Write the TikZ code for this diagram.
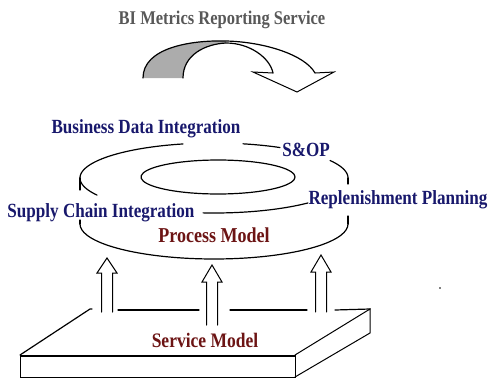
\documentclass[tikz,border=0pt]{standalone}
\usepackage{fontspec}
\newfontfamily\lblfont[FakeStretch=0.85]{Liberation Serif}
\definecolor{navy}{RGB}{24,24,108}
\definecolor{maroon}{RGB}{108,20,20}
\definecolor{titlegray}{RGB}{88,88,88}
\definecolor{ribbon}{RGB}{172,172,172}
\tikzset{
  lbl/.style={inner sep=0pt, anchor=base, font=\lblfont\bfseries\fontsize{20.1}{24}\selectfont, text=navy},
  modellbl/.style={lbl, text=maroon},
  edge/.style={line width=1.2pt, line cap=round},
  thin edge/.style={line width=1pt, line cap=round},
}
% ellipse arc through a parameter range (screen angles: 270 = top, 90 = bottom)
\newcommand\ellarc[6]{\draw[edge] plot[domain=#5:#6, samples=40, smooth] ({#1+#3*cos(\x)},{#2+#4*sin(\x)});}
% hollow upward block arrow: centre x, shaft bottom, head base, tip
\newcommand\hollowup[4]{\draw[thin edge, line join=miter] ({#1-5.5},#2) -- ({#1-5.5},#3) -- ({#1-10},#3) -- (#1,#4) -- ({#1+10},#3) -- ({#1+5.5},#3) -- ({#1+5.5},#2);}
\begin{document}
\begin{tikzpicture}[x=1pt, y=-1pt]
\useasboundingbox (0,0) rectangle (490,380);

% title and the twisted reporting arrow
\node[lbl, text=titlegray, font=\lblfont\bfseries\fontsize{19.4}{23}\selectfont] (title) at (222,24) {BI Metrics Reporting Service};
\fill[ribbon] (143,78) .. controls (143,48) and (190,40) .. (226,41) -- (226,43)
  .. controls (205,44) and (183,55) .. (183,78) -- cycle;
\draw[edge] (143,78) .. controls (143,48) and (190,40) .. (226,41)
  .. controls (265,42) and (305,55) .. (315,73);
\draw[edge] (183,78) .. controls (183,55) and (205,44) .. (226,43)
  .. controls (250,43) and (270,58) .. (273,73);
\draw[thin edge, line join=miter] (273,73) -- (253,72) -- (297,92) -- (334,72) -- (315,73);

% process model ring: top ellipse centre (214,178), bottom ellipse centre (214,224)
\ellarc{214}{178}{134}{35}{180}{256.6}
\ellarc{214}{178}{134}{35}{282.5}{299.5}
\ellarc{214}{178}{134}{35}{330}{360}
\ellarc{214}{178}{134}{35}{150.8}{180}
\ellarc{214}{178}{134}{35}{45.5}{94.7}
\ellarc{214}{224}{134}{35}{0}{180}
\draw[edge] (80,178) -- (80,190);
\draw[edge] (80,220) -- (80,224);
\draw[edge] (348,178) -- (348,184);
\draw[edge] (348,216) -- (348,224);
% hole of the ring
\ellarc{218}{177}{77}{17}{0}{360}

\node[lbl] (bdi) at (146,133) {Business Data Integration};
\node[lbl] (sop) at (306,156) {S\&OP};
\node[lbl] (sci) at (101,217) {Supply Chain Integration};
\node[lbl] (rp) at (398,204) {Replenishment Planning};
\node[modellbl, font=\lblfont\bfseries\fontsize{21.2}{25}\selectfont] (pm) at (214,242) {Process Model};

% service model slab
\draw[edge] (20,355) -- (90,309) -- (92,309);
\draw[edge] (118,310) -- (199,310);
\draw[edge] (230,310) -- (307,310);
\draw[edge] (335,310) -- (370,309);
\draw[thin edge, line join=miter] (295,355) -- (370,309) -- (370,333) -- (295,377);
\draw[thin edge] (20,355) -- (20,377) -- (295,377) -- (295,355);
\draw[line width=2.6pt] (20,356) -- (295,356);
\node[modellbl, font=\lblfont\bfseries\fontsize{20.6}{25}\selectfont] (sm) at (205,347) {Service Model};

% upward arrows from the service model to the process model
\hollowup{107}{312}{273}{258}
\hollowup{212}{325}{282}{265}
\hollowup{321}{312}{272}{255}

\fill (440,288) circle (0.8);
\end{tikzpicture}
\end{document}
